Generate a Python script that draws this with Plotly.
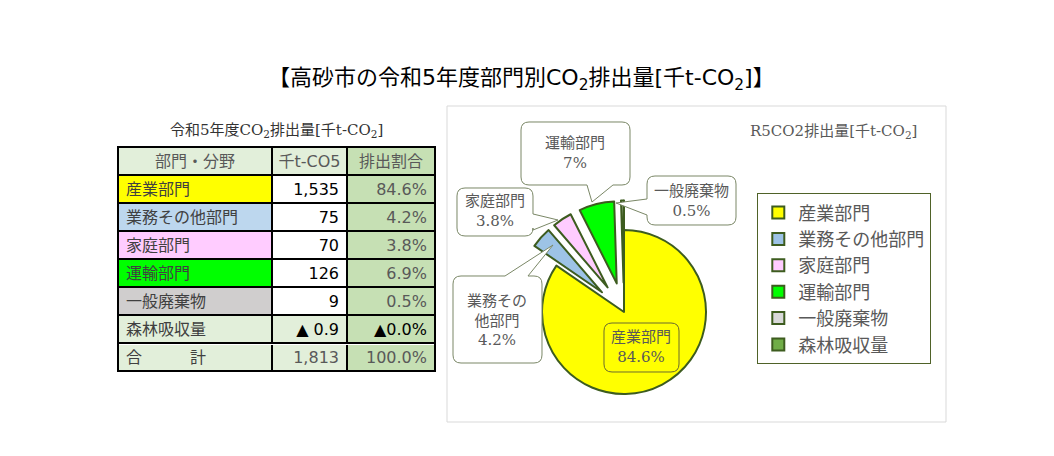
import plotly.graph_objects as go

W, H = 1054, 456
OX, OY = 8, 8                      # page body margin
WF, HF = W - 2 * OX, H - 2 * OY    # figure size
FONT = "Noto Sans CJK JP"
SANS = "DejaVu Sans, Noto Sans CJK JP"
SERIF = "DejaVu Serif, Noto Sans CJK JP"

# ---------------- data ----------------
categories = ["産業部門", "業務その他部門", "家庭部門", "運輸部門", "一般廃棄物", "森林吸収量"]
emissions = [1535, 75, 70, 126, 9, -0.9]          # 千t-CO2
shares = [84.6, 4.2, 3.8, 6.9, 0.5, -0.0]          # %
total_emission = 1813
total_share = 100.0
pie_label_pct = ["84.6%", "4.2%", "3.8%", "7%", "0.5%"]
header = ["部門・分野", "千t-CO5", "排出割合"]

# ---------------- styles ----------------
slice_colors = ["#ffff00", "#9dc3e6", "#ffccff", "#00ff00", "#d9d9d9", "#70ad47"]
row_fill = ["#ffff00", "#bdd7ee", "#ffccff", "#00ff00", "#d0cece", "#e2efda", "#e2efda"]
pulls = [0, 0.36, 0.36, 0.36, 0.36, 0.36]
OUTLINE = "#3d5c1f"
GRAY_TXT = "#595959"


def X(x):
    return (x - OX) / WF


def Y(y):
    return 1 - (y - OY) / HF


def fmt_num(v):
    if v < 0:
        return f"▲ {abs(v):.1f}"
    return f"{v:,.0f}"


def fmt_pct(v, neg=False):
    if neg:
        return f"▲{abs(v):.1f}%"
    return f"{v:.1f}%"


col1 = categories + ["合　　　計"]
col2 = [fmt_num(v) for v in emissions] + [f"{total_emission:,}"]
col3 = [fmt_pct(s, neg=(e < 0)) for s, e in zip(shares, emissions)] + [f"{total_share:.1f}%"]
n_rows = len(col1)

fig = go.Figure()

# ---------------- table ----------------
fig.add_trace(go.Table(
    domain=dict(x=[X(118), X(435)], y=[Y(373), Y(147)]),
    columnwidth=[154, 75, 88],
    header=dict(
        values=header,
        fill_color=["#e2efda", "#e2efda", "#c6e0b4"],
        line=dict(color="black", width=2),
        align="center",
        height=28,
        font=dict(family=SANS, size=16, color=GRAY_TXT),
    ),
    cells=dict(
        values=[col1, col2, col3],
        fill_color=[row_fill,
                    ["white"] * 5 + ["#e2efda", "#e2efda"],
                    ["#c6e0b4"] * n_rows],
        line=dict(color="black", width=2),
        align=["left", "right", "right"],
        height=28,
        font=dict(family=SANS, size=16,
                  color=[["#404040"] * n_rows,
                         ["black"] * 6 + [GRAY_TXT],
                         [GRAY_TXT] * 5 + ["black", GRAY_TXT]]),
    ),
))

# ---------------- pie ----------------
pie_values = [max(v, 0) for v in emissions]
cx, cy, r = 624, 312, 82
half = r * (1 + max(pulls))
fig.add_trace(go.Pie(
    labels=categories,
    values=pie_values,
    sort=False,
    direction="clockwise",
    rotation=0,
    pull=pulls,
    textinfo="none",
    hoverinfo="label+value",
    marker=dict(colors=slice_colors, line=dict(color=OUTLINE, width=2)),
    domain=dict(x=[X(cx - half), X(cx + half)],
                y=[Y(cy + half), Y(cy - half)]),
    showlegend=True,
))


def P(x, y):
    return f"{X(x):.5f},{Y(y):.5f}"


def callout(x0, y0, x1, y1, side=None, b=None, tip=None, rr=8):
    d = [f"M{P(x0 + rr, y0)}"]
    if side == "top":
        d += [f"L{P(b[0], y0)}", f"L{P(*tip)}", f"L{P(b[1], y0)}"]
    d += [f"L{P(x1 - rr, y0)}", f"Q{P(x1, y0)} {P(x1, y0 + rr)}"]
    if side == "right":
        d += [f"L{P(x1, b[0])}", f"L{P(*tip)}", f"L{P(x1, b[1])}"]
    d += [f"L{P(x1, y1 - rr)}", f"Q{P(x1, y1)} {P(x1 - rr, y1)}"]
    if side == "bottom":
        d += [f"L{P(b[1], y1)}", f"L{P(*tip)}", f"L{P(b[0], y1)}"]
    d += [f"L{P(x0 + rr, y1)}", f"Q{P(x0, y1)} {P(x0, y1 - rr)}"]
    if side == "left":
        d += [f"L{P(x0, b[1])}", f"L{P(*tip)}", f"L{P(x0, b[0])}"]
    d += [f"L{P(x0, y0 + rr)}", f"Q{P(x0, y0)} {P(x0 + rr, y0)}", "Z"]
    return " ".join(d)


shapes = []
# chart area frame
shapes.append(dict(type="rect", xref="paper", yref="paper",
                   x0=X(447), x1=X(946), y0=Y(422), y1=Y(106),
                   line=dict(color="#d9d9d9", width=1), fillcolor="rgba(0,0,0,0)",
                   layer="below"))

CO_LINE = "#7a8766"
callouts = [
    (521, 122, 630, 185, "bottom", (587, 613), (592, 202)),
    (457, 188, 533, 236, "right", (214, 230), (558, 220)),
    (647, 176, 736, 225, "left", (199, 215), (616, 203)),
    (453, 276, 542, 363, "top", (505, 528), (553, 245)),
]
for x0, y0, x1, y1, side, b, tip in callouts:
    shapes.append(dict(type="path", xref="paper", yref="paper",
                       path=callout(x0, y0, x1, y1, side, b, tip),
                       line=dict(color=CO_LINE, width=1), fillcolor="white",
                       layer="above"))
shapes.append(dict(type="path", xref="paper", yref="paper",
                   path=callout(604, 323, 679, 372),
                   line=dict(color="#6b6b2e", width=1), fillcolor="rgba(0,0,0,0)",
                   layer="above"))
# double line above total row
shapes.append(dict(type="line", xref="paper", yref="paper",
                   x0=X(119), x1=X(434), y0=Y(344.5), y1=Y(344.5),
                   line=dict(color="white", width=1), layer="above"))

annotations = []


def ann(text, x, y, size, color, family=FONT):
    annotations.append(dict(text=text, x=X(x), y=Y(y), xref="paper", yref="paper",
                            showarrow=False, font=dict(family=family, size=size, color=color),
                            xanchor="center", yanchor="middle"))


ann("【高砂市の令和5年度部門別CO<sub>2</sub>排出量[千t-CO<sub>2</sub>]】", 521, 80, 22, "black", SANS)
ann("令和5年度CO<sub>2</sub>排出量[千t-CO<sub>2</sub>]", 277, 130, 15, "#333333", SERIF)
ann("R5CO2排出量[千t-CO<sub>2</sub>]", 833, 131, 15, GRAY_TXT, SERIF)

label_pos = {
    0: (641, 347, f"{categories[0]}<br>{pie_label_pct[0]}"),
    1: (497, 320, f"業務その<br>他部門<br>{pie_label_pct[1]}"),
    2: (495, 211, f"{categories[2]}<br>{pie_label_pct[2]}"),
    3: (575, 153, f"{categories[3]}<br>{pie_label_pct[3]}"),
    4: (691, 201, f"{categories[4]}<br>{pie_label_pct[4]}"),
}
for i, (x, y, t) in label_pos.items():
    ann(t, x, y, 15, GRAY_TXT, SERIF)

fig.update_layout(
    width=WF, height=HF,
    margin=dict(l=0, r=0, t=0, b=0),
    paper_bgcolor="white", plot_bgcolor="white",
    shapes=shapes, annotations=annotations,
    legend=dict(
        x=X(757), y=Y(193), xanchor="left", yanchor="top",
        bgcolor="white", bordercolor="#4f6228", borderwidth=1.3,
        font=dict(family=FONT, size=18, color=GRAY_TXT),
        traceorder="normal",
        entrywidth=175, entrywidthmode="pixels",
    ),
)

fig.write_html("out.html")
